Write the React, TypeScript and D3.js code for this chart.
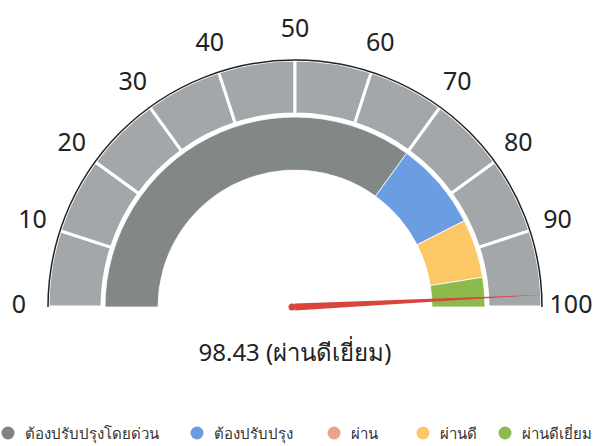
import React, { useEffect, useRef } from 'react';
import * as d3 from 'd3';

// band thresholds of the inner scale (0-100)
const bandNames = ['ต้องปรับปรุงโดยด่วน', 'ต้องปรับปรุง', 'ผ่าน', 'ผ่านดี', 'ผ่านดีเยี่ยม'];
const bandStarts = [0, 70, 85, 85, 95];
const bandEnds = [70, 85, 85, 95, 100];
const bandColors = ['#828787', '#6b9de2', '#eea48b', '#fcc765', '#8cba4b'];
const legendColors = ['#7f8384', '#6b9be0', '#eda28a', '#fbc96a', '#8cba4e'];
const tickValues = [0, 10, 20, 30, 40, 50, 60, 70, 80, 90, 100];
const score = 98.43;
const scoreLabel = 'ผ่านดีเยี่ยม';
const legendX = [8, 197, 334, 423, 505];

const width = 596;
const height = 446;
const cx = 295;
const cy = 307;
const font = "'Noto Sans', 'Open Sans', sans-serif";

const App: React.FC = () => {
    const ref = useRef<SVGSVGElement>(null);

    useEffect(() => {
        const svg = d3.select(ref.current);
        svg.selectAll('*').remove();

        // value -> angle, 0 on the left, 100 on the right
        const angle = d3.scaleLinear().domain([0, 100]).range([-Math.PI / 2, Math.PI / 2]);

        const g = svg.append('g').attr('transform', `translate(${cx},${cy})`);

        // outer ring of ten grey segments
        const outerArc = d3.arc<number>()
            .innerRadius(193)
            .outerRadius(247)
            .startAngle((d) => angle(d))
            .endAngle((d) => angle(d + 10));

        g.selectAll('path.outer')
            .data(d3.range(0, 100, 10))
            .enter()
            .append('path')
            .attr('class', 'outer')
            .attr('d', (d) => outerArc(d) as string)
            .attr('fill', '#a4a7a9')
            .attr('stroke', '#ffffff')
            .attr('stroke-width', 3);

        // thin black rim on the outer edge
        g.append('path')
            .attr('d', d3.arc()({
                innerRadius: 247,
                outerRadius: 247,
                startAngle: angle(0),
                endAngle: angle(100),
            }) as string)
            .attr('fill', 'none')
            .attr('stroke', '#222222')
            .attr('stroke-width', 1.5);

        // inner coloured band
        const innerArc = d3.arc<number>()
            .innerRadius(137)
            .outerRadius(190)
            .startAngle((i) => angle(bandStarts[i]))
            .endAngle((i) => angle(bandEnds[i]));

        g.selectAll('path.band')
            .data(d3.range(bandNames.length).filter((i) => bandEnds[i] > bandStarts[i]))
            .enter()
            .append('path')
            .attr('class', 'band')
            .attr('d', (i) => innerArc(i) as string)
            .attr('fill', (i) => bandColors[i])
            .attr('stroke', '#ffffff')
            .attr('stroke-width', 0.8);

        // tick labels
        const labelR = 276;
        g.selectAll('text.tick')
            .data(tickValues)
            .enter()
            .append('text')
            .attr('class', 'tick')
            .attr('x', (d) => labelR * Math.sin(angle(d)))
            .attr('y', (d) => -labelR * Math.cos(angle(d)) - 4)
            .attr('text-anchor', 'middle')
            .attr('dominant-baseline', 'central')
            .style('font-family', font)
            .style('font-size', '25px')
            .style('fill', '#222222')
            .text((d) => d);

        // needle
        const a = angle(score);
        const tipR = 248;
        const baseW = 3.5;
        const tip: [number, number] = [tipR * Math.sin(a), -tipR * Math.cos(a)];
        const p1: [number, number] = [baseW * Math.cos(a), baseW * Math.sin(a)];
        const p2: [number, number] = [-baseW * Math.cos(a), -baseW * Math.sin(a)];
        g.append('path')
            .attr('d', d3.line()([p1, tip, p2]) + 'Z')
            .attr('fill', '#d9453c');
        g.append('circle')
            .attr('cx', -3)
            .attr('cy', 0)
            .attr('r', baseW)
            .attr('fill', '#d9453c');
        g.append('path')
            .attr('d', d3.line()([[-3, -baseW], p1, p2, [-3, baseW]]) + 'Z')
            .attr('fill', '#d9453c');

        // score text
        svg.append('text')
            .attr('x', cx)
            .attr('y', 351)
            .attr('text-anchor', 'middle')
            .attr('dominant-baseline', 'central')
            .style('font-family', font)
            .style('font-size', '24px')
            .style('fill', '#222222')
            .text(`${score} (${scoreLabel})`);

        // legend
        const legend = svg.selectAll('g.legend')
            .data(bandNames)
            .enter()
            .append('g')
            .attr('class', 'legend')
            .attr('transform', (_, i) => `translate(${legendX[i]},433)`);

        legend.append('circle')
            .attr('r', 6.5)
            .attr('fill', (_, i) => legendColors[i]);

        legend.append('text')
            .attr('x', 17)
            .attr('dominant-baseline', 'central')
            .style('font-family', font)
            .style('font-size', '15px')
            .style('fill', '#333333')
            .text((d) => d);
    }, []);

    return (
        <svg
            ref={ref}
            width={width}
            height={height}
            style={{ position: 'absolute', left: 0, top: 0, background: '#ffffff' }}
        ></svg>
    );
};

export default App;
